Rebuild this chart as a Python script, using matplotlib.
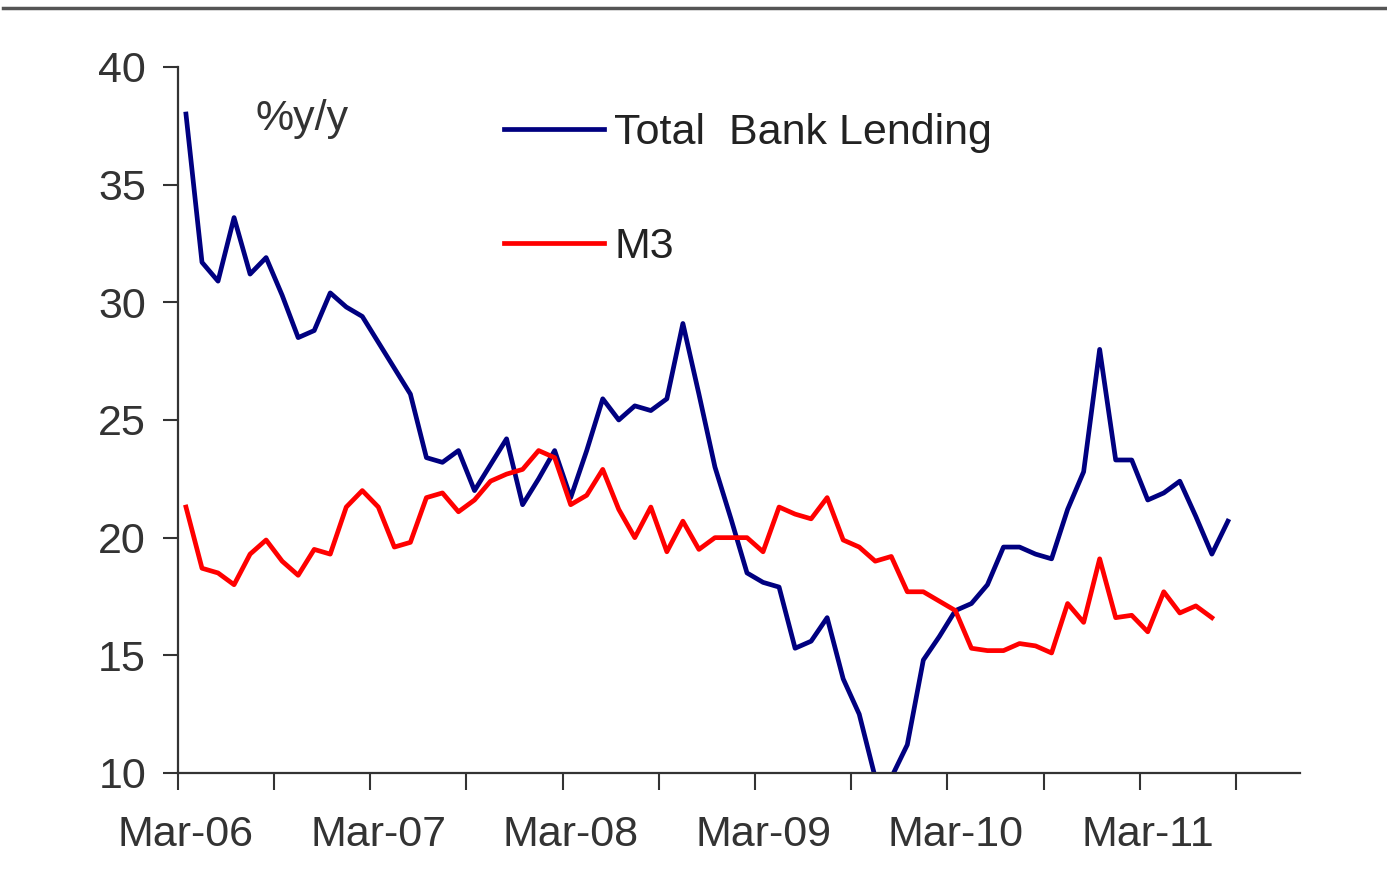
import numpy as np
import matplotlib
matplotlib.use("Agg")
import matplotlib.pyplot as plt
from matplotlib.lines import Line2D

# monthly % y/y, Mar-06 onwards
lending = [38.0, 31.7, 30.9, 33.6, 31.2, 31.9, 30.3, 28.5, 28.8, 30.4,
           29.8, 29.4, 28.3, 27.2, 26.1, 23.4, 23.2, 23.7, 22.0, 23.1,
           24.2, 21.4, 22.5, 23.7, 21.7, 23.7, 25.9, 25.0, 25.6, 25.4,
           25.9, 29.1, 26.1, 23.0, 20.8, 18.5, 18.1, 17.9, 15.3, 15.6,
           16.6, 14.0, 12.5, 9.8, 9.8, 11.2, 14.8, 15.8, 16.9, 17.2,
           18.0, 19.6, 19.6, 19.3, 19.1, 21.2, 22.8, 28.0, 23.3, 23.3,
           21.6, 21.9, 22.4, 20.9, 19.3, 20.7]
m3 = [21.3, 18.7, 18.5, 18.0, 19.3, 19.9, 19.0, 18.4, 19.5, 19.3,
      21.3, 22.0, 21.3, 19.6, 19.8, 21.7, 21.9, 21.1, 21.6, 22.4,
      22.7, 22.9, 23.7, 23.4, 21.4, 21.8, 22.9, 21.2, 20.0, 21.3,
      19.4, 20.7, 19.5, 20.0, 20.0, 20.0, 19.4, 21.3, 21.0, 20.8,
      21.7, 19.9, 19.6, 19.0, 19.2, 17.7, 17.7, 17.3, 16.9, 15.3,
      15.2, 15.2, 15.5, 15.4, 15.1, 17.2, 16.4, 19.1, 16.6, 16.7,
      16.0, 17.7, 16.8, 17.1, 16.6]
tick_labels = ["Mar-06", "Mar-07", "Mar-08", "Mar-09", "Mar-10", "Mar-11"]

plt.rcParams['font.family'] = ['Liberation Sans', 'DejaVu Sans']
fs = 31

fig = plt.figure(figsize=(13.87, 8.93), dpi=100)
ax = fig.add_axes([0.1283, 0.1344, 0.8090, 0.7906])

ax.plot(np.arange(len(lending)), lending, color='#000080', lw=3.4, label='Total  Bank Lending')
ax.plot(np.arange(len(m3)), m3, color='#ff0000', lw=3.4, label='M3')

ax.set_ylim(10, 40)
ax.set_xlim(-0.5, 69.5)
ax.set_yticks([10, 15, 20, 25, 30, 35, 40])
ax.set_xticks(np.arange(-0.5, 66, 6))
ax.set_xticklabels([])
ax.set_xticks(np.arange(0, 61, 12), minor=True)
ax.set_xticklabels(tick_labels, minor=True)
ax.tick_params(axis='x', which='minor', length=0, pad=30)
ax.tick_params(axis='x', which='major', length=12, width=1.5, color='#333333')
ax.tick_params(axis='y', length=11, width=1.5, color='#333333', pad=12)
ax.tick_params(labelsize=fs, labelcolor='#333333', which='both')

for s in ['top', 'right']:
    ax.spines[s].set_visible(False)
for s in ['left', 'bottom']:
    ax.spines[s].set_linewidth(1.6)
    ax.spines[s].set_color('#333333')

ax.text(0.069, 0.927, '%y/y', transform=ax.transAxes, fontsize=fs,
        color='#333333', ha='left', va='center')

leg = ax.legend(loc='upper left', bbox_to_anchor=(0.291, 0.935), frameon=False,
                fontsize=fs, handlelength=2.3, handletextpad=0.25,
                labelspacing=1.72, borderpad=0, borderaxespad=0)
for t in leg.get_texts():
    t.set_color('#222222')

# grey rule across the top
fig.add_artist(Line2D([0.002, 1.0], [0.991, 0.991], transform=fig.transFigure,
                      color='#555555', lw=2.5))

fig.savefig('out.png', dpi=100)
